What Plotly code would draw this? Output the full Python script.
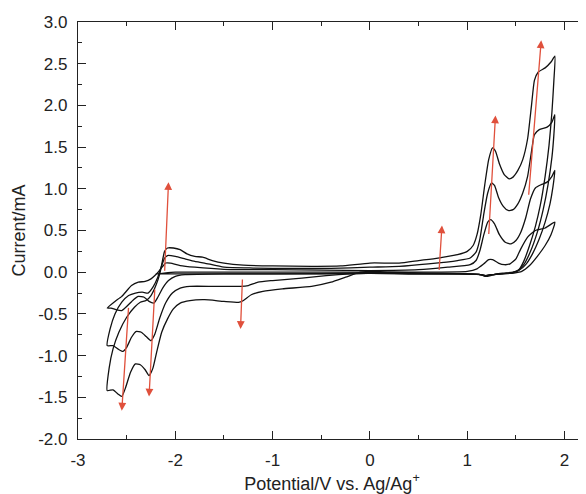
import plotly.graph_objects as go

# ---------------- data ----------------
# Curve 1 (largest)
c1_x = [-2.70, -2.68, -2.64, -2.58, -2.50, -2.42, -2.36, -2.30, -2.25, -2.20, -2.16, -2.13, -2.11, -2.08, -2.02,
        -1.95, -1.88, -1.80, -1.72, -1.62, -1.50, -1.30, -1.00, -0.60, -0.30, 0.00, 0.30, 0.50, 0.70, 0.90, 1.00,
        1.06, 1.10, 1.14, 1.18, 1.22, 1.26, 1.29, 1.33, 1.38, 1.43, 1.47, 1.52, 1.57, 1.62, 1.66, 1.69, 1.73, 1.80,
        1.86, 1.90,
        1.89, 1.87, 1.84, 1.80, 1.75, 1.70, 1.64, 1.58, 1.53, 1.47, 1.38, 1.30, 1.24, 1.19, 1.14, 1.00, 0.60, 0.20,
        0.05, -0.10, -0.25, -0.40, -0.60, -0.90, -1.10, -1.22, -1.30, -1.34, -1.50, -1.70, -1.85, -1.95, -2.02,
        -2.08, -2.14, -2.19, -2.23, -2.27, -2.31, -2.36, -2.41, -2.46, -2.51, -2.55, -2.59, -2.64, -2.70]
c1_y = [-1.42, -1.15, -0.92, -0.72, -0.54, -0.42, -0.36, -0.34, -0.28, -0.16, -0.02, 0.15, 0.25, 0.29, 0.29,
        0.27, 0.22, 0.19, 0.18, 0.14, 0.11, 0.085, 0.075, 0.07, 0.075, 0.11, 0.11, 0.14, 0.17, 0.21, 0.25,
        0.32, 0.45, 0.70, 1.05, 1.35, 1.49, 1.45, 1.30, 1.17, 1.12, 1.14, 1.22, 1.35, 1.60, 2.00, 2.30, 2.40, 2.45,
        2.52, 2.59,
        2.30, 1.92, 1.52, 1.15, 0.80, 0.55, 0.32, 0.13, 0.03, 0.00, -0.01, -0.02, -0.04, -0.05, -0.03, -0.02, -0.01,
        0.00, 0.01, 0.00, -0.06, -0.12, -0.17, -0.20, -0.23, -0.27, -0.34, -0.36, -0.35, -0.33, -0.34, -0.37, -0.44,
        -0.56, -0.72, -0.95, -1.15, -1.24, -1.17, -1.11, -1.10, -1.20, -1.38, -1.49, -1.46, -1.41, -1.42]

# Curve 2
c2_x = [-2.70, -2.67, -2.62, -2.55, -2.48, -2.41, -2.34, -2.28, -2.23, -2.18, -2.14, -2.11, -2.08, -2.00, -1.90,
        -1.80, -1.70, -1.50, -1.20, -0.80, -0.40, 0.00, 0.30, 0.60, 0.90, 1.03, 1.09, 1.13, 1.17, 1.21, 1.25, 1.28,
        1.32, 1.37, 1.42, 1.47, 1.52, 1.57, 1.62, 1.66, 1.69, 1.74, 1.82, 1.87, 1.90,
        1.89, 1.87, 1.83, 1.78, 1.72, 1.65, 1.58, 1.52, 1.45, 1.35, 1.25, 1.19, 1.12, 0.90, 0.50, 0.10, -0.20,
        -0.45, -0.70, -1.00, -1.15, -1.25, -1.33, -1.60, -1.85, -1.95, -2.03, -2.10, -2.16, -2.21, -2.25, -2.30,
        -2.35, -2.40, -2.45, -2.50, -2.54, -2.59, -2.64, -2.70]
c2_y = [-0.88, -0.68, -0.50, -0.36, -0.28, -0.25, -0.24, -0.25, -0.18, -0.06, 0.08, 0.17, 0.20, 0.19, 0.16,
        0.13, 0.11, 0.06, 0.05, 0.045, 0.045, 0.06, 0.07, 0.10, 0.14, 0.17, 0.24, 0.40, 0.70, 0.95, 1.07, 1.04,
        0.90, 0.79, 0.74, 0.75, 0.82, 0.95, 1.15, 1.45, 1.65, 1.71, 1.74, 1.80, 1.89,
        1.65, 1.38, 1.05, 0.75, 0.48, 0.25, 0.09, 0.02, -0.01, -0.02, -0.03, -0.045, -0.025, -0.02, -0.02, -0.01,
        -0.02, -0.04, -0.07, -0.10, -0.12, -0.16, -0.17, -0.17, -0.17, -0.19, -0.25, -0.37, -0.55, -0.74, -0.82,
        -0.77, -0.72, -0.71, -0.78, -0.90, -0.95, -0.92, -0.88, -0.88]

# Curve 3
c3_x = [-2.70, -2.62, -2.55, -2.45, -2.38, -2.31, -2.25, -2.21, -2.17, -2.13, -2.10, -2.05, -1.95, -1.80, -1.50,
        -1.00, -0.50, 0.00, 0.50, 0.80, 1.03, 1.09, 1.13, 1.17, 1.21, 1.24, 1.28, 1.33, 1.39, 1.45, 1.50, 1.55,
        1.60, 1.65, 1.70, 1.76, 1.82, 1.87, 1.90,
        1.88, 1.85, 1.80, 1.74, 1.67, 1.60, 1.53, 1.45, 1.35, 1.25, 1.19, 1.12, 0.90, 0.40, 0.00, -0.50, -1.00,
        -1.50, -1.90, -2.00, -2.07, -2.13, -2.18, -2.22, -2.27, -2.32, -2.38, -2.43, -2.49, -2.55, -2.61, -2.66,
        -2.70]
c3_y = [-0.43, -0.35, -0.29, -0.16, -0.12, -0.11, -0.08, -0.04, 0.01, 0.07, 0.11, 0.11, 0.08, 0.06, 0.035,
        0.03, 0.025, 0.02, 0.03, 0.06, 0.09, 0.14, 0.26, 0.45, 0.60, 0.63, 0.58, 0.45, 0.36, 0.34, 0.38, 0.48,
        0.65, 0.88, 1.01, 1.05, 1.08, 1.15, 1.22,
        1.02, 0.82, 0.60, 0.40, 0.22, 0.09, 0.02, -0.01, -0.02, -0.03, -0.04, -0.025, -0.02, -0.02, -0.015, -0.02,
        -0.02, -0.02, -0.03, -0.05, -0.10, -0.19, -0.30, -0.37, -0.35, -0.30, -0.29, -0.33, -0.40, -0.46, -0.45,
        -0.43, -0.43]

# Curve 4 (smallest)
c4_x = [-2.20, -2.00, -1.50, -1.00, 0.00, 0.50, 1.00, 1.10, 1.17, 1.22, 1.26, 1.32, 1.38, 1.44, 1.50, 1.55, 1.62,
        1.70, 1.80, 1.90,
        1.86, 1.80, 1.72, 1.64, 1.56, 1.48, 1.35, 1.25, 1.19, 1.12, 0.90, 0.00, -1.00, -1.60, -2.00, -2.20]
c4_y = [-0.02, 0.00, 0.00, 0.00, 0.00, 0.00, 0.01, 0.04, 0.10, 0.15, 0.15, 0.11, 0.09, 0.10, 0.16, 0.28, 0.42,
        0.50, 0.53, 0.60,
        0.45, 0.32, 0.19, 0.08, 0.01, -0.01, -0.02, -0.03, -0.04, -0.025, -0.02, -0.015, -0.02, -0.02, -0.02, -0.02]

curves_x = [c1_x, c2_x, c3_x, c4_x]
curves_y = [c1_y, c2_y, c3_y, c4_y]

# red arrows: tail (x0, y0) -> head (x1, y1)
arrow_x0 = [-2.11, -2.48, -2.21, -1.31, 0.71, 1.22, 1.63]
arrow_y0 = [0.00, -0.41, -0.19, -0.07, 0.01, 0.44, 0.91]
arrow_x1 = [-2.07, -2.55, -2.27, -1.33, 0.74, 1.29, 1.76]
arrow_y1 = [1.08, -1.66, -1.49, -0.68, 0.56, 1.88, 2.78]

x_tick_vals = [-3, -2, -1, 0, 1, 2]
x_tick_text = ["-3", "-2", "-1", "0", "1", "2"]
y_tick_vals = [-2.0, -1.5, -1.0, -0.5, 0.0, 0.5, 1.0, 1.5, 2.0, 2.5, 3.0]
y_tick_text = ["-2.0", "-1.5", "-1.0", "-0.5", "0.0", "0.5", "1.0", "1.5", "2.0", "2.5", "3.0"]

x_range = [-3, 2.22]
y_range = [-2.0, 3.0]

# ---------------- figure ----------------
fig = go.Figure()
for cx, cy in zip(curves_x, curves_y):
    fig.add_trace(go.Scatter(x=cx, y=cy, mode="lines",
                             line=dict(color="#111111", width=1.3, shape="spline", smoothing=0.5),
                             showlegend=False, hoverinfo="skip"))

# helper trace for the right-hand tick axis
fig.add_trace(go.Scatter(x=[None], y=[None], yaxis="y2", showlegend=False, hoverinfo="skip"))

red = "#e0503c"
for x0, y0, x1, y1 in zip(arrow_x0, arrow_y0, arrow_x1, arrow_y1):
    fig.add_annotation(x=x1, y=y1, ax=x0, ay=y0, xref="x", yref="y", axref="x", ayref="y",
                       text="", showarrow=True, arrowhead=2, arrowsize=1.2, arrowwidth=1.3,
                       arrowcolor=red, standoff=0, startstandoff=0)

font_family = "Liberation Sans, Arial, sans-serif"
# the page body adds an 8 px margin, so the figure is 8 px smaller and margins compensate
fig.update_layout(
    width=578, height=486,
    margin=dict(l=70, r=0, t=14, b=55, autoexpand=False),
    paper_bgcolor="white", plot_bgcolor="white",
    font=dict(family=font_family, size=17, color="#222222"),
    xaxis=dict(range=x_range, tickvals=x_tick_vals, ticktext=x_tick_text,
               showline=True, linecolor="#222222", linewidth=1.3, mirror="ticks",
               ticks="inside", ticklen=8, tickwidth=1.3, tickcolor="#222222",
               minor=dict(dtick=0.5, tick0=0, ticks="inside", ticklen=4, tickwidth=1.2, tickcolor="#222222"),
               showgrid=False, zeroline=False, automargin=False,
               ticklabelstandoff=5,
               title=dict(text="Potential/V vs. Ag/Ag<sup>+</sup>", font=dict(size=18), standoff=10)),
    yaxis=dict(range=y_range, tickvals=y_tick_vals, ticktext=y_tick_text,
               showline=True, linecolor="#222222", linewidth=1.3, mirror=False,
               ticks="inside", ticklen=8, tickwidth=1.3, tickcolor="#222222",
               minor=dict(dtick=0.25, tick0=0, ticks="inside", ticklen=4, tickwidth=1.2, tickcolor="#222222"),
               showgrid=False, zeroline=False, automargin=False,
               ticklabelstandoff=6,
               title=dict(text="Current/mA", font=dict(size=18), standoff=7)),
    yaxis2=dict(range=y_range, tickvals=y_tick_vals, overlaying="y", side="right", anchor="x",
                showticklabels=False, showline=False, showgrid=False, zeroline=False,
                ticks="inside", ticklen=5, tickwidth=1.3, tickcolor="#222222"),
)

fig.write_html("out.html")
